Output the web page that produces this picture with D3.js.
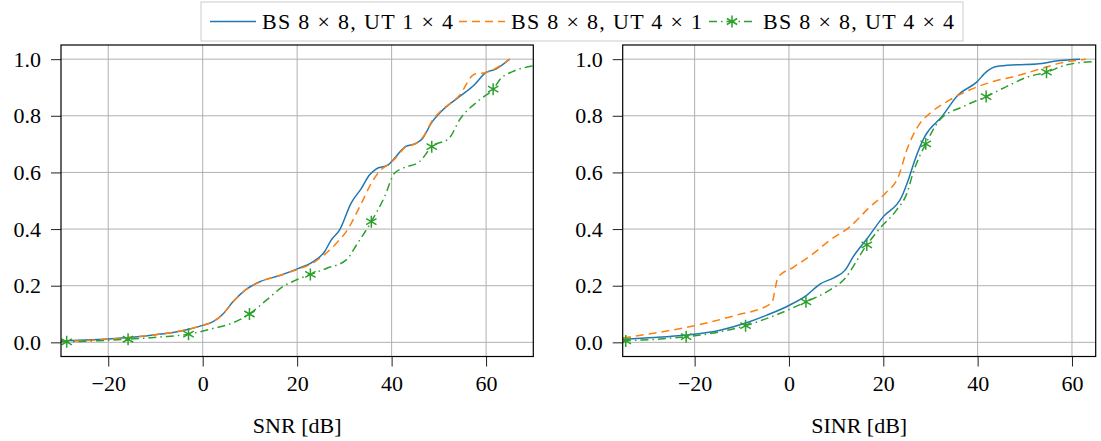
<!DOCTYPE html>
<html>
<head>
<meta charset="utf-8">
<script src="https://cdn.jsdelivr.net/npm/d3@7"></script>
<style>
  body { margin: 0; background: #fff; }
  svg { display: block; }
  svg text { font-family: "Liberation Serif", "DejaVu Serif", "Noto Serif", serif !important; fill: #000; }
</style>
</head>
<body>
<svg id="chart" width="1101" height="441"></svg>
<script>
// Series labels
const seriesNames = ["BS 8 × 8, UT 1 × 4", "BS 8 × 8, UT 4 × 1", "BS 8 × 8, UT 4 × 4"];

// Tick values
const xTicks = [-20, 0, 20, 40, 60];
const yTicks = [0, 0.2, 0.4, 0.6, 0.8, 1.0];

// CDF of SNR [dB]
const snrUT14 = [[-30,0.005],[-25,0.008],[-20,0.012],[-15,0.018],[-10,0.027],[-6,0.036],[-3,0.046],[0,0.06],
  [2.2,0.073],[4.3,0.1],[6.4,0.143],[9.2,0.187],[12.1,0.214],[16.5,0.237],[20.3,0.261],[23,0.281],
  [25.8,0.32],[27.2,0.361],[29,0.397],[31.4,0.491],[33.6,0.544],[35.3,0.591],[36.7,0.612],[39.2,0.626],
  [40.2,0.642],[42.9,0.691],[45.2,0.703],[46.6,0.721],[48.4,0.774],[50.5,0.815],[54.4,0.868],[57.5,0.909],
  [60,0.953],[62.1,0.965],[65,1.0]];
const snrUT41 = [[-30,0.003],[-25,0.006],[-20,0.011],[-15,0.018],[-10,0.027],[-6,0.036],[-3,0.046],[0,0.06],
  [2.2,0.073],[4.3,0.1],[6.4,0.143],[9.2,0.187],[12.1,0.214],[16.5,0.237],[20.3,0.259],[23,0.277],
  [25.8,0.31],[28.3,0.35],[30.4,0.391],[33.6,0.491],[35.7,0.562],[37.4,0.603],[39.6,0.632],[40.5,0.645],
  [42.9,0.689],[45.2,0.703],[46.6,0.724],[48.7,0.786],[50.5,0.818],[54.4,0.873],[57.5,0.947],[60,0.953],
  [62.1,0.968],[65,1.0]];
const snrUT44 = [[-30,0.002],[-28.8,0.002],[-22,0.006],[-15.8,0.011],[-9,0.019],[-3,0.029],[2.2,0.049],
  [6.4,0.069],[9.9,0.1],[13.5,0.149],[17,0.197],[19.5,0.218],[22.8,0.24],[26.2,0.261],[30.4,0.291],
  [32.8,0.35],[35.7,0.426],[38.5,0.514],[40.6,0.597],[42.4,0.615],[45.9,0.638],[48.5,0.691],[52.2,0.721],
  [54.4,0.786],[58.6,0.856],[61.5,0.894],[63.2,0.933],[65.6,0.956],[70,0.976]];
const snrUT44Marks = [1, 3, 5, 8, 12, 16, 21, 25];

// CDF of SINR [dB]
const sinrUT14 = [[-35.2,0.011],[-28.5,0.017],[-21.7,0.026],[-14.6,0.043],[-9,0.069],[-4.7,0.096],[0.2,0.132],
  [3.8,0.167],[6.5,0.205],[9.5,0.228],[11.9,0.255],[13.6,0.302],[16.5,0.365],[20,0.444],[23.9,0.514],
  [25.3,0.573],[26.7,0.644],[28.8,0.727],[32.4,0.797],[35.9,0.874],[39.8,0.919],[41.9,0.956],[44,0.974],
  [48.3,0.98],[52.5,0.983],[57.5,0.995],[59.6,0.998],[61.7,1.0]];
const sinrUT41 = [[-35.2,0.016],[-28.7,0.032],[-20.3,0.058],[-11.8,0.093],[-3.7,0.138],[-2.3,0.23],[0.9,0.265],
  [5.2,0.314],[8.7,0.361],[12.9,0.408],[17.2,0.479],[20.4,0.526],[23.2,0.585],[25,0.68],[27.8,0.774],
  [29.9,0.809],[34.1,0.856],[38.4,0.892],[43.3,0.921],[48.3,0.941],[53.2,0.965],[57.5,0.986],[62.1,0.998],
  [63,1.0]];
const sinrUT44 = [[-35.2,0.004],[-34.6,0.005],[-28,0.011],[-21.8,0.02],[-15,0.036],[-9.2,0.059],[-3,0.095],
  [3.6,0.143],[8.7,0.185],[11.5,0.219],[16.5,0.344],[19.3,0.403],[22.8,0.467],[25,0.526],[26.4,0.603],
  [29,0.701],[32,0.786],[37,0.833],[41.8,0.868],[46.1,0.903],[50.4,0.936],[54.6,0.954],[58.9,0.98],
  [65,0.992]];
const sinrUT44Marks = [1, 3, 5, 7, 10, 15, 18, 21];

// Styling
const colors = ["#1f77b4", "#ff7f0e", "#2ca02c"];
const dashes = [null, "8,5", "8,4,1.5,4"];
const gridColor = "#b0b0b0";
const fontStack = "'Liberation Serif', 'DejaVu Serif', 'Noto Serif', serif";

const svg = d3.select("#chart");
const plotTop = 45, plotBottom = 356.5;

const panels = [
  { x0: 61, x1: 533.3, xDomain: [-30, 70], title: "SNR [dB]",
    series: [snrUT14, snrUT41, snrUT44], marks: snrUT44Marks },
  { x0: 622.7, x1: 1095.7, xDomain: [-35.25, 65.03], title: "SINR [dB]",
    series: [sinrUT14, sinrUT41, sinrUT44], marks: sinrUT44Marks }
];

function asteriskPath(r) {
  const c = r * Math.cos(Math.PI / 6), s = r * Math.sin(Math.PI / 6);
  return `M0,${-r}L0,${r}M${-c},${-s}L${c},${s}M${-c},${s}L${c},${-s}`;
}

panels.forEach((p, pi) => {
  const x = d3.scaleLinear().domain(p.xDomain).range([p.x0, p.x1]);
  const y = d3.scaleLinear().domain([-0.05, 1.05]).range([plotBottom, plotTop]);
  const g = svg.append("g");

  const clipId = "clip" + pi;
  svg.append("clipPath").attr("id", clipId)
    .append("rect").attr("x", p.x0).attr("y", plotTop)
    .attr("width", p.x1 - p.x0).attr("height", plotBottom - plotTop);

  // grid
  g.append("g").selectAll("line").data(xTicks).join("line")
    .attr("x1", d => x(d)).attr("x2", d => x(d)).attr("y1", plotTop).attr("y2", plotBottom)
    .attr("stroke", gridColor).attr("stroke-width", 1);
  g.append("g").selectAll("line").data(yTicks).join("line")
    .attr("y1", d => y(d)).attr("y2", d => y(d)).attr("x1", p.x0).attr("x2", p.x1)
    .attr("stroke", gridColor).attr("stroke-width", 1);

  // curves
  const line = d3.line().x(d => x(d[0])).y(d => y(d[1])).curve(d3.curveMonotoneX);
  const curves = g.append("g").attr("clip-path", `url(#${clipId})`);
  p.series.forEach((data, i) => {
    curves.append("path").datum(data)
      .attr("d", line).attr("fill", "none")
      .attr("stroke", colors[i]).attr("stroke-width", 1.5)
      .attr("stroke-dasharray", dashes[i]);
  });
  const green = p.series[2];
  curves.append("g").selectAll("path").data(p.marks.map(i => green[i])).join("path")
    .attr("transform", d => `translate(${x(d[0])},${y(d[1])})`)
    .attr("d", asteriskPath(6)).attr("fill", "none")
    .attr("stroke", colors[2]).attr("stroke-width", 1.5);

  // axes
  const xAxis = d3.axisBottom(x).tickValues(xTicks).tickSize(10).tickPadding(8);
  const yAxis = d3.axisLeft(y).tickValues(yTicks).tickSize(10).tickPadding(10).tickFormat(d3.format(".1f"));
  const gx = g.append("g").attr("transform", `translate(0,${plotBottom})`).call(xAxis);
  const gy = g.append("g").attr("transform", `translate(${p.x0},0)`).call(yAxis);
  [gx, gy].forEach(a => {
    a.attr("font-family", fontStack).attr("font-size", 22);
    a.select(".domain").remove();
    a.selectAll(".tick line").attr("stroke", "#222").attr("stroke-width", 1);
    a.selectAll(".tick text").attr("fill", "#000");
  });
  gx.selectAll(".tick text").attr("dy", "0.75em");

  // frame
  g.append("rect").attr("x", p.x0).attr("y", plotTop)
    .attr("width", p.x1 - p.x0).attr("height", plotBottom - plotTop)
    .attr("fill", "none").attr("stroke", "#000").attr("stroke-width", 1.2);

  // axis title
  g.append("text").attr("x", (p.x0 + p.x1) / 2).attr("y", 433)
    .attr("text-anchor", "middle").attr("font-family", fontStack)
    .attr("font-size", 22).text(p.title);
});

// legend
const legend = svg.append("g");
legend.append("rect").attr("x", 201).attr("y", 2).attr("width", 762).attr("height", 39)
  .attr("fill", "#fff").attr("stroke", "#cccccc").attr("stroke-width", 1);
const lineStart = [210, 459, 709];
const textStart = [262, 511, 763];
seriesNames.forEach((name, i) => {
  legend.append("line").attr("x1", lineStart[i]).attr("x2", lineStart[i] + 46)
    .attr("y1", 21.5).attr("y2", 21.5)
    .attr("stroke", colors[i]).attr("stroke-width", 1.5)
    .attr("stroke-dasharray", dashes[i]);
  if (i === 2) {
    legend.append("path").attr("transform", `translate(${lineStart[i] + 23},21.5)`)
      .attr("d", asteriskPath(6)).attr("fill", "none")
      .attr("stroke", colors[2]).attr("stroke-width", 1.5);
  }
  legend.append("text").attr("x", textStart[i]).attr("y", 29)
    .attr("font-family", fontStack)
    .attr("font-size", 22).attr("textLength", 191).attr("lengthAdjust", "spacing")
    .text(name);
});
</script>
</body>
</html>
